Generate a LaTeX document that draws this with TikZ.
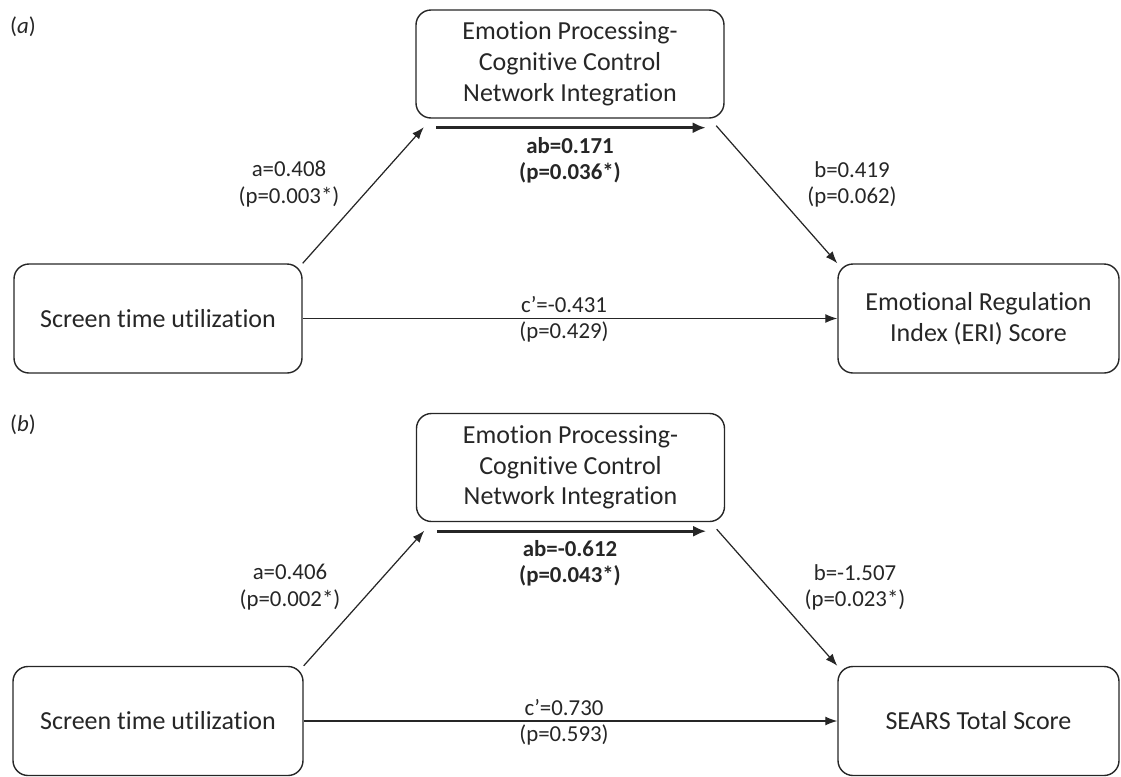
\documentclass[tikz,border=0pt]{standalone}
\usepackage{fontspec}
\setmainfont{Carlito}[Ligatures=NoCommon]
\usetikzlibrary{arrows.meta}
\definecolor{ink}{HTML}{262626}

\begin{document}
\begin{tikzpicture}[
    box/.style={draw=ink, rounded corners=0.3cm, line width=0.8pt, align=center, inner sep=0pt,
      text=ink, font=\fontsize{14.8}{17.5}\selectfont},
    lbl/.style={align=center, text=ink, font=\fontsize{13}{15}\selectfont},
    ablbl/.style={lbl, font=\fontsize{13}{15}\selectfont\bfseries},
    arr/.style={draw=ink, line width=0.7pt, -{Latex[length=2.4mm, width=1.8mm]}},
    abarr/.style={draw=ink, line width=1.8pt, -{Latex[length=2.6mm, width=2.2mm]}}
  ]
    \useasboundingbox (0, 0) rectangle (22.42, -15.52);

    % (a)
    \node[lbl] (tagA) at (0.46, -0.54) {(\textit{a})};
    \node[box, minimum width=6.16cm, minimum height=2.16cm] (medA) at (11.40, -1.28) {Emotion Processing-\\Cognitive Control\\Network Integration};
    \node[box, minimum width=5.76cm, minimum height=2.18cm] (xA) at (3.16, -6.37) {Screen time utilization};
    \node[box, minimum width=5.62cm, minimum height=2.18cm] (yA) at (19.57, -6.37) {Emotional Regulation\\Index (ERI) Score};
    \coordinate (abA1) at ([shift={(0.42, -0.18)}]medA.south west);
    \coordinate (abA2) at ([shift={(-0.38, -0.18)}]medA.south east);

    % 線を引く
    \draw[arr] (xA.north east) -- ([shift={(0.17, -0.17)}]medA.south west);
    \draw[arr] ([shift={(-0.17, -0.14)}]medA.south east) -- (yA.north west);
    \draw[arr] (xA) -- (yA);
    \draw[abarr] (abA1) -- (abA2);

    % coefficients
    \node[lbl] (aA) at (5.78, -3.68) {a=0.408\\(p=0.003*)};
    \node[ablbl] (abA) at (11.40, -3.21) {ab=0.171\\(p=0.036*)};
    \node[lbl] (bA) at (17.04, -3.69) {b=0.419\\(p=0.062)};
    \node[lbl] (cA) at (11.28, -6.38) {c’=-0.431\\(p=0.429)};

    % (b)
    \node[lbl] (tagB) at (0.46, -8.50) {(\textit{b})};
    \node[box, minimum width=6.16cm, minimum height=2.16cm] (medB) at (11.41, -9.35) {Emotion Processing-\\Cognitive Control\\Network Integration};
    \node[box, minimum width=5.80cm, minimum height=2.18cm] (xB) at (3.16, -14.42) {Screen time utilization};
    \node[box, minimum width=5.62cm, minimum height=2.18cm] (yB) at (19.57, -14.42) {SEARS Total Score};
    \coordinate (abB1) at ([shift={(0.42, -0.18)}]medB.south west);
    \coordinate (abB2) at ([shift={(-0.38, -0.18)}]medB.south east);

    % 線を引く
    \draw[arr] (xB.north east) -- ([shift={(0.17, -0.17)}]medB.south west);
    \draw[arr] ([shift={(-0.17, -0.14)}]medB.south east) -- (yB.north west);
    \draw[arr] (xB) -- (yB);
    \draw[abarr] (abB1) -- (abB2);

    % coefficients
    \node[lbl] (aB) at (5.80, -11.74) {a=0.406\\(p=0.002*)};
    \node[ablbl] (abB) at (11.40, -11.27) {ab=-0.612\\(p=0.043*)};
    \node[lbl] (bB) at (17.10, -11.75) {b=-1.507\\(p=0.023*)};
    \node[lbl] (cB) at (11.28, -14.44) {c’=0.730\\(p=0.593)};

  \end{tikzpicture}
\end{document}
